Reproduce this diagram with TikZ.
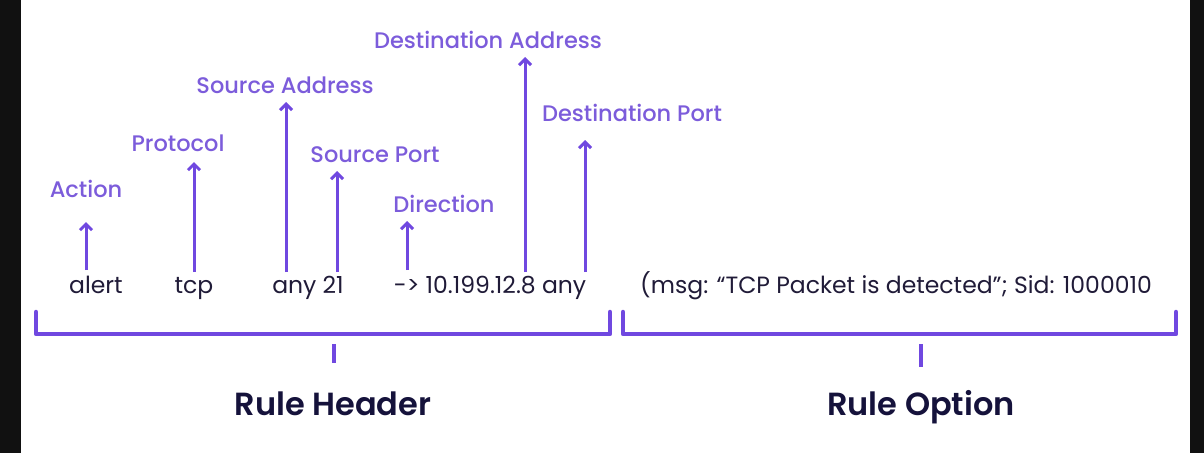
\documentclass[tikz,border=0pt]{standalone}
\usepackage{fontspec}
\setmainfont{Poppins}[BoldFont=Poppins SemiBold]
\newfontfamily\medfont{Poppins Medium}
\usetikzlibrary{arrows.meta}
\definecolor{lab}{HTML}{7C5CDB}
\definecolor{arr}{HTML}{7048E0}
\definecolor{ink}{HTML}{201B38}
\definecolor{navy}{HTML}{15123B}
\definecolor{frame}{HTML}{111111}
\tikzset{
  lbl/.style={text=lab, font=\medfont\fontsize{22.5}{26}\selectfont, anchor=base, inner sep=0pt},
  rule/.style={text=ink, font=\fontsize{23.5}{27}\selectfont, anchor=base, inner sep=0pt},
  title/.style={text=navy, font=\fontsize{32}{38}\selectfont\bfseries, anchor=base, inner sep=0pt},
  up/.style={draw=arr, line width=3pt, -{Straight Barb[length=6pt,width=12pt,line width=3pt]}},
  brk/.style={draw=arr, line width=4.5pt, line join=round, line cap=round},
  tick/.style={draw=arr, line width=4.5pt}
}
\begin{document}
\begin{tikzpicture}[x=1pt,y=-1pt]
\useasboundingbox (0,0) rectangle (1204,453);
\fill[white] (0,0) rectangle (1204,453);
\fill[frame] (0,0) rectangle (21,453);
\fill[frame] (1190,0) rectangle (1204,453);

% rule text
\node[rule] (alert) at (96,293) {alert};
\node[rule] (tcp) at (194,293) {tcp};
\node[rule] (any21) at (308,293) {any 21};
\node[rule] (dst) at (490,293) {-> 10.199.12.8 any};
\node[rule] (opt) at (896,293) {(msg: “TCP Packet is detected”; Sid: 1000010};

% labels
\node[lbl] (action) at (86,197) {Action};
\node[lbl] (proto) at (178,151) {Protocol};
\node[lbl] (saddr) at (285,93) {Source Address};
\node[lbl] (sport) at (375,162) {Source Port};
\node[lbl] (dir) at (444,212) {Direction};
\node[lbl] (daddr) at (488,48) {Destination Address};
\node[lbl] (dport) at (632,121) {Destination Port};

% arrow ends
\coordinate (a1) at (86,270);  \coordinate (t1) at (86,222);
\coordinate (a2) at (194,272); \coordinate (t2) at (194,162);
\coordinate (a3) at (286,272); \coordinate (t3) at (286,102);
\coordinate (a4) at (337,272); \coordinate (t4) at (337,171);
\coordinate (a5) at (407,270); \coordinate (t5) at (407,221);
\coordinate (a6) at (525,272); \coordinate (t6) at (525,57);
\coordinate (a7) at (585,272); \coordinate (t7) at (585,140);

\draw[up] (a1) -- (t1);
\draw[up] (a2) -- (t2);
\draw[up] (a3) -- (t3);
\draw[up] (a4) -- (t4);
\draw[up] (a5) -- (t5);
\draw[up] (a6) -- (t6);
\draw[up] (a7) -- (t7);

% brackets
\coordinate (h1) at (36,312); \coordinate (h2) at (36,334);
\coordinate (h3) at (610,334); \coordinate (h4) at (610,312);
\draw[brk] (h1) -- (h2) -- (h3) -- (h4);
\coordinate (o1) at (623,312); \coordinate (o2) at (623,334);
\coordinate (o3) at (1176,334); \coordinate (o4) at (1176,312);
\draw[brk] (o1) -- (o2) -- (o3) -- (o4);
\coordinate (ht1) at (334,344); \coordinate (ht2) at (334,363);
\coordinate (ot1) at (921,344); \coordinate (ot2) at (921,367);
\draw[tick] (ht1) -- (ht2);
\draw[tick] (ot1) -- (ot2);

% titles
\node[title] (rh) at (333,415) {Rule Header};
\node[title] (ro) at (921,415) {Rule Option};
\end{tikzpicture}
\end{document}
